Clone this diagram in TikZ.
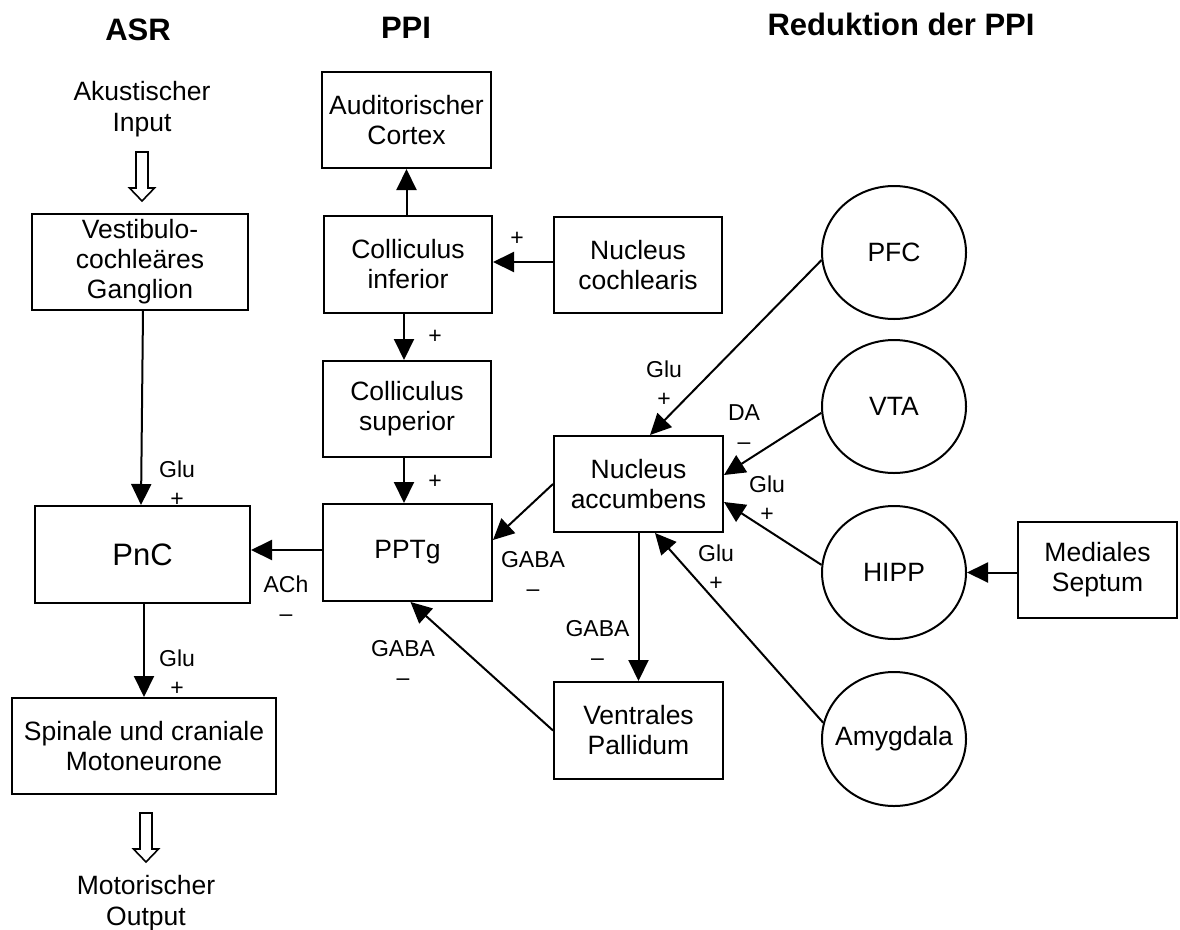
\documentclass[tikz,border=0pt]{standalone}
\usepackage{fontspec}
\setmainfont{Liberation Sans}
\usetikzlibrary{arrows.meta,shapes.geometric}
\begin{document}
\begin{tikzpicture}[x=1pt,y=-1pt,
  box/.style={draw,line width=2pt,rectangle,inner sep=0pt,align=center,font=\fontsize{26.5}{30}\selectfont},
  circ/.style={draw,line width=2pt,ellipse,inner sep=0pt,minimum width=144pt,minimum height=133pt,font=\fontsize{26.5}{30}\selectfont},
  conn/.style={line width=2pt,-{Triangle[length=21pt,width=20pt]}},
  lbl/.style={align=center,inner sep=0pt,font=\fontsize{23}{29}\selectfont},
  titletext/.style={font=\fontsize{31}{36}\selectfont\bfseries,inner sep=0pt},
  plaintext/.style={align=center,inner sep=0pt,font=\fontsize{26.5}{31}\selectfont},
  hollow/.style={draw,line width=1.6pt,fill=white},
  hollowarrow/.pic={\draw[hollow] (-6,0) -- (6,0) -- (6,36) -- (12.5,36) -- (0,49) -- (-12.5,36) -- (-6,36) -- cycle;}
]
\useasboundingbox (0,0) rectangle (1180,929);

% titles
\node[titletext] (tasr) at (138,30) {ASR};
\node[titletext] (tppi) at (406,28) {PPI};
\node[titletext] (tred) at (901,24) {Reduktion der PPI};

% input / output
\node[plaintext] (input) at (142,109) {Akustischer\\Input};
\node[plaintext] (output) at (146,903) {Motorischer\\Output};
\pic at (142,152) {hollowarrow};
\pic at (146,813) {hollowarrow};

% boxes
\node[box,minimum width=216pt,minimum height=96pt] (vest) at (140,262) {Vestibulo-\\cochleäres\\Ganglion};
\node[box,minimum width=169pt,minimum height=96pt] (aud) at (406.5,120) {Auditorischer\\Cortex};
\node[box,minimum width=168pt,minimum height=97pt] (colinf) at (408,264.5) {Colliculus\\inferior};
\node[box,minimum width=168pt,minimum height=96pt] (nc) at (638,265) {Nucleus\\cochlearis};
\node[box,minimum width=168pt,minimum height=96pt] (colsup) at (407,409) {Colliculus\\superior};
\node[box,minimum width=169pt,minimum height=97pt] (pptg) at (407.5,552.5) {PPTg};
\node[box,minimum width=169pt,minimum height=96pt] (nacc) at (638.5,484) {Nucleus\\accumbens};
\node[box,minimum width=215pt,minimum height=97pt,font=\fontsize{31}{36}\selectfont] (pnc) at (142.5,554.5) {PnC};
\node[box,minimum width=264pt,minimum height=96pt] (spinal) at (144,746) {Spinale und craniale\\Motoneurone};
\node[box,minimum width=169pt,minimum height=97pt] (vp) at (638.5,730.5) {Ventrales\\Pallidum};
\node[box,minimum width=159pt,minimum height=96pt] (ms) at (1097.5,570) {Mediales\\Septum};

% circles
\node[circ] (pfc) at (894,252.5) {PFC};
\node[circ] (vta) at (894,406.5) {VTA};
\node[circ] (hipp) at (894,572.5) {HIPP};
\node[circ,minimum height=134pt,inner xsep=-10pt] (amyg) at (894,739) {Amygdala};

% connectors
\draw[conn] ([xshift=3pt]vest.south) -- ([xshift=-1.5pt]pnc.north);
\draw[conn] (pnc.south -| spinal.north) -- (spinal.north);
\draw[conn] (colinf.north -| aud.south) -- (aud.south);
\draw[conn] ([yshift=3pt]nc.west) -- ([yshift=3pt]nc.west -| colinf.east);
\draw[conn] ([xshift=-4pt]colinf.south) -- ([xshift=-4pt]colinf.south |- colsup.north);
\draw[conn] ([xshift=-3pt]colsup.south) -- ([xshift=-3pt]colsup.south |- pptg.north);
\draw[conn] ([yshift=2.5pt]pptg.west) -- ([yshift=2.5pt]pptg.west -| pnc.east);
\draw[conn] (nacc.west) -- ([yshift=12.5pt]pptg.east);
\draw[conn] (vp.west) -- ([xshift=3pt]pptg.south);
\draw[conn] (nacc.south) -- (vp.north);
\draw[conn] (pfc.186) -- ([xshift=11.5pt]nacc.north);
\draw[conn] (vta.185) -- ([yshift=9pt]nacc.east);
\draw[conn] (hipp.174) -- ([yshift=-18pt]nacc.east);
\draw[conn] (amyg.167) -- ([xshift=16.5pt]nacc.south);
\draw[conn] (ms.west |- hipp.east) -- (hipp.east);

% labels
\node[lbl] (l1) at (177,483.5) {Glu\\+};
\node[lbl] (l2) at (177,672.5) {Glu\\+};
\node[lbl] (l3) at (517,239) {+};
\node[lbl] (l4) at (435,337) {+};
\node[lbl] (l5) at (435,482) {+};
\node[lbl] (l6) at (286,599) {ACh\\–};
\node[lbl] (l7) at (533,573.5) {GABA\\–};
\node[lbl] (l8) at (403,662.5) {GABA\\–};
\node[lbl] (l9) at (597.5,643) {GABA\\–};
\node[lbl] (l10) at (664,383.5) {Glu\\+};
\node[lbl] (l11) at (744,427.5) {DA\\–};
\node[lbl] (l12) at (767,499) {Glu\\+};
\node[lbl] (l13) at (716,567.5) {Glu\\+};
\end{tikzpicture}
\end{document}
